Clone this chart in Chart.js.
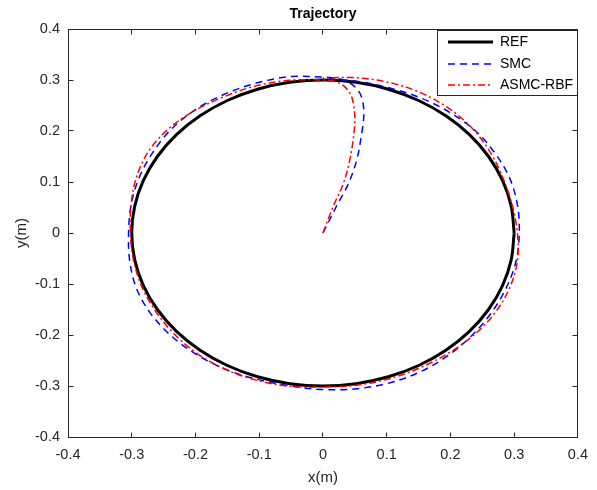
<!DOCTYPE html>
<html><head><meta charset="utf-8">
<script src="https://cdn.jsdelivr.net/npm/chart.js@4.4.1/dist/chart.umd.min.js"></script>
<style>html,body{margin:0;padding:0;background:#fff;} canvas{display:block;}</style>
</head><body>
<canvas id="c" width="597" height="490"></canvas>
<script>
// ---- data ----
const chartTitle = 'Trajectory';
const xTickValues = [-0.4,-0.3,-0.2,-0.1,0,0.1,0.2,0.3,0.4];
const xTickLabels = ['-0.4','-0.3','-0.2','-0.1','0','0.1','0.2','0.3','0.4'];
const yTickValues = [-0.4,-0.3,-0.2,-0.1,0,0.1,0.2,0.3,0.4];
const yTickLabels = ['-0.4','-0.3','-0.2','-0.1','0','0.1','0.2','0.3','0.4'];
const seriesNames = ['REF','SMC','ASMC-RBF'];

const refX = [0.3,0.2954,0.2819,0.2598,0.2298,0.1928,0.15,0.1026,0.0521,0,-0.0521,-0.1026,-0.15,-0.1928,-0.2298,-0.2598,-0.2819,-0.2954,-0.3,-0.2954,-0.2819,-0.2598,-0.2298,-0.1928,-0.15,-0.1026,-0.0521,0,0.0521,0.1026,0.15,0.1928,0.2298,0.2598,0.2819,0.2954,0.3];
const refY = [0,0.0521,0.1026,0.15,0.1928,0.2298,0.2598,0.2819,0.2954,0.3,0.2954,0.2819,0.2598,0.2298,0.1928,0.15,0.1026,0.0521,0,-0.0521,-0.1026,-0.15,-0.1928,-0.2298,-0.2598,-0.2819,-0.2954,-0.3,-0.2954,-0.2819,-0.2598,-0.2298,-0.1928,-0.15,-0.1026,-0.0521,0];

const smcX = [0,0.021,0.040,0.053,0.060,0.064,0.063,0.058,0.047,0.032,0.016,0,-0.054,-0.1067,-0.1565,-0.2018,-0.2398,-0.2685,-0.2894,-0.3013,-0.305,-0.3033,-0.2932,-0.2711,-0.239,-0.1993,-0.154,-0.1043,-0.0528,0,0.0538,0.1067,0.156,0.1993,0.2359,0.2659,0.2885,0.3033,0.308,0.3053,0.2932,0.2702,0.239,0.1986,0.153,0.1036,0.0524,0];
const smcY = [0,0.052,0.097,0.143,0.189,0.228,0.254,0.274,0.290,0.300,0.304,0.306,0.3063,0.2932,0.2711,0.2405,0.2012,0.155,0.1053,0.0531,0,-0.0535,-0.1067,-0.1565,-0.2006,-0.2375,-0.2667,-0.2866,-0.2994,-0.307,-0.3053,-0.2932,-0.2702,-0.2375,-0.198,-0.1535,-0.105,-0.0535,0,0.0538,0.1067,0.156,0.2006,0.2367,0.265,0.2847,0.2974,0.303];

const asmcX = [0,0.016,0.032,0.042,0.048,0.050,0.045,0.034,0.019,0,-0.0528,-0.105,-0.1545,-0.2012,-0.2428,-0.2745,-0.2932,-0.3013,-0.302,-0.2974,-0.2847,-0.2633,-0.2344,-0.198,-0.154,-0.105,-0.0529,0,0.0526,0.104,0.1525,0.1973,0.2375,0.2702,0.2932,0.3053,0.305,0.2974,0.2838,0.265,0.2382,0.2018,0.1575,0.107,0.0536,0];
const asmcY = [0,0.052,0.097,0.143,0.189,0.228,0.267,0.287,0.297,0.300,0.2994,0.2885,0.2676,0.2398,0.2038,0.1585,0.1067,0.0531,0,-0.0524,-0.1036,-0.152,-0.1967,-0.2359,-0.2667,-0.2885,-0.3004,-0.302,-0.2984,-0.2857,-0.2641,-0.2352,-0.1993,-0.156,-0.1067,-0.0538,0,0.0524,0.1033,0.153,0.1999,0.2405,0.2728,0.2941,0.3043,0.304];

// ---- build chart ----
const toPoints = (xs, ys) => xs.map((x, i) => ({x: x, y: ys[i]}));
const AX = '#262626';
const FONT = '"Liberation Sans", Arial, Helvetica, sans-serif';

const styles = [
  {color:'#000000', width:3, dash:[]},
  {color:'#0000ff', width:1.5, dash:[7,5]},
  {color:'#ff0000', width:1.5, dash:[7,3,2,3]}
];

const boxPlugin = {
  id: 'matlabBox',
  afterDatasetsDraw(chart) {
    const {ctx, chartArea: a, scales} = chart;
    const L = Math.floor(a.left) + 0.5, R = Math.floor(a.right) + 0.5;
    const T = Math.floor(a.top) + 0.5, B = Math.floor(a.bottom) + 0.5;
    ctx.save();
    ctx.strokeStyle = AX; ctx.lineWidth = 1; ctx.setLineDash([]);
    ctx.beginPath();
    ctx.rect(L, T, R - L, B - T);
    xTickValues.forEach(v => {
      const p = Math.floor(scales.x.getPixelForValue(v)) + 0.5;
      ctx.moveTo(p, B); ctx.lineTo(p, B - 5);
      ctx.moveTo(p, T); ctx.lineTo(p, T + 5);
    });
    yTickValues.forEach(v => {
      const p = Math.floor(scales.y.getPixelForValue(v)) + 0.5;
      ctx.moveTo(L, p); ctx.lineTo(L + 5, p);
      ctx.moveTo(R, p); ctx.lineTo(R - 5, p);
    });
    ctx.stroke();
    ctx.restore();
  },
  afterDraw(chart) {
    const {ctx, chartArea: a} = chart;
    ctx.save();
    // title centred over the axes
    ctx.fillStyle = '#000';
    ctx.font = 'bold 14px ' + FONT;
    ctx.textAlign = 'center';
    ctx.textBaseline = 'middle';
    ctx.fillText(chartTitle, (a.left + a.right) / 2, 14.5);
    // legend box
    const bx = 437.5, by = 30.5, bw = 140, bh = 65;
    ctx.fillStyle = '#ffffff';
    ctx.fillRect(bx, by, bw, bh);
    ctx.strokeStyle = AX; ctx.lineWidth = 1; ctx.setLineDash([]);
    ctx.strokeRect(bx, by, bw, bh);
    const rows = [42, 64, 85];
    ctx.font = '14px ' + FONT;
    ctx.textBaseline = 'middle';
    ctx.textAlign = 'left';
    seriesNames.forEach((name, i) => {
      const s = styles[i];
      ctx.strokeStyle = s.color; ctx.lineWidth = s.width; ctx.setLineDash(s.dash);
      ctx.beginPath(); ctx.moveTo(448, rows[i]); ctx.lineTo(493, rows[i]); ctx.stroke();
      ctx.fillStyle = '#000';
      ctx.fillText(name, 500, rows[i] + 0.5);
    });
    ctx.restore();
  }
};

const series = [toPoints(refX, refY), toPoints(smcX, smcY), toPoints(asmcX, asmcY)];
const datasets = seriesNames.map((name, i) => ({
  label: name,
  data: series[i],
  showLine: true,
  borderColor: styles[i].color,
  backgroundColor: styles[i].color,
  borderWidth: styles[i].width,
  borderDash: styles[i].dash,
  pointRadius: 0,
  pointHoverRadius: 0,
  tension: 0.34,
  fill: false,
  order: 2 - i
}));

new Chart(document.getElementById('c'), {
  type: 'scatter',
  data: {datasets},
  options: {
    responsive: false,
    animation: false,
    devicePixelRatio: 1,
    layout: {padding: {left: 0, top: 29, right: 18, bottom: 0}},
    plugins: {
      legend: {display: false},
      tooltip: {enabled: false},
      title: {display: false}
    },
    scales: {
      x: {
        type: 'linear', min: -0.4, max: 0.4,
        afterBuildTicks: s => { s.ticks = xTickValues.map(v => ({value: v})); },
        afterFit: s => { s.height = 53; },
        grid: {display: false, drawTicks: false},
        border: {display: false},
        ticks: {color: AX, font: {family: FONT, size: 14.5}, padding: 9,
          callback: (v, i) => xTickLabels[i]},
        title: {display: true, text: 'x(m)', color: AX, font: {family: FONT, size: 15}, padding: {top: 0, bottom: 3}}
      },
      y: {
        type: 'linear', min: -0.4, max: 0.4,
        afterBuildTicks: s => { s.ticks = yTickValues.map(v => ({value: v})); },
        afterFit: s => { s.width = 68; },
        grid: {display: false, drawTicks: false},
        border: {display: false},
        ticks: {color: AX, font: {family: FONT, size: 14.5}, padding: 8,
          callback: (v, i) => yTickLabels[i]},
        title: {display: true, text: 'y(m)', color: AX, font: {family: FONT, size: 15}, padding: {top: 13, bottom: 0}}
      }
    }
  },
  plugins: [boxPlugin]
});
</script>
</body></html>
